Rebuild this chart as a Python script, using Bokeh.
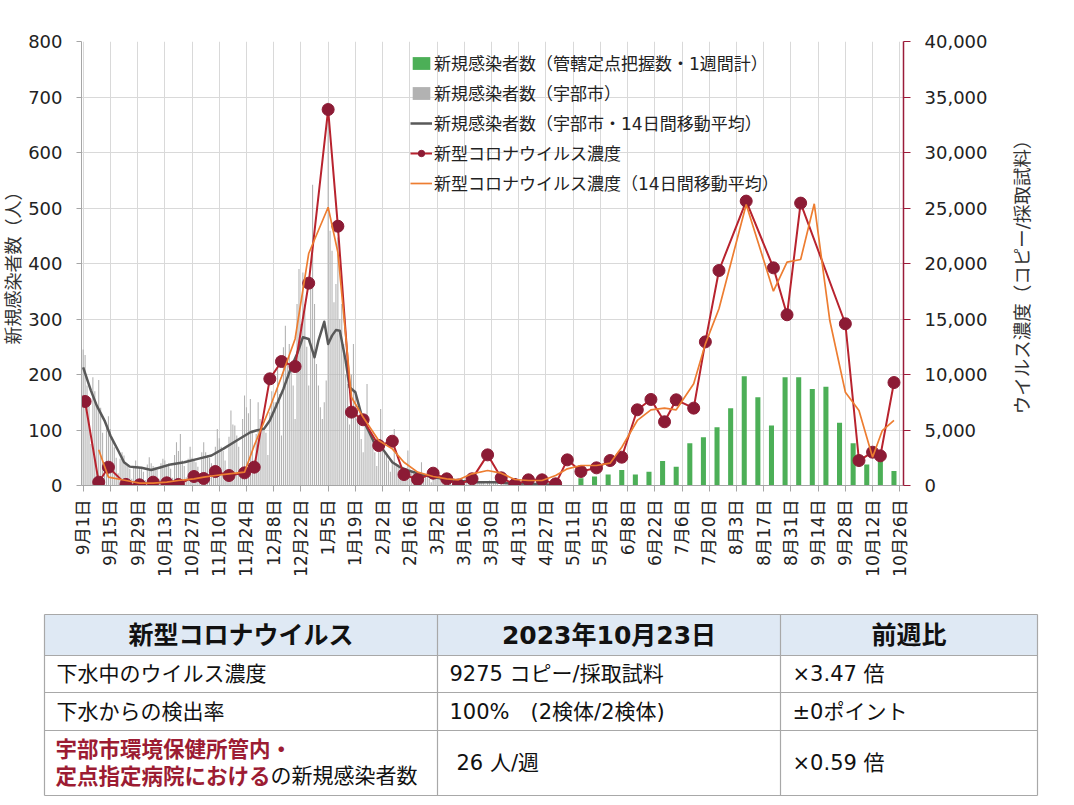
import math
import pandas as pd
from bokeh.plotting import figure
from bokeh.layouts import row
from bokeh.models import (Range1d, LinearAxis, FixedTicker, NumeralTickFormatter,
                          Legend, LegendItem)
from bokeh.core.properties import value
from bokeh.embed import file_html
from bokeh.resources import INLINE

START = pd.Timestamp("2022-09-01")
FONT = "DejaVu Sans, Noto Sans CJK JP"
TABLE_FONT = "DejaVu Sans, Noto Sans CJK JP"


def to_day(dates):
    return [(pd.Timestamp(d) - START).days for d in dates]


# x-axis tick labels (every 14 days from 2022-09-01)
tick_labels = ["9月1日", "9月15日", "9月29日", "10月13日", "10月27日", "11月10日",
               "11月24日", "12月8日", "12月22日", "1月5日", "1月19日", "2月2日",
               "2月16日", "3月2日", "3月16日", "3月30日", "4月13日", "4月27日",
               "5月11日", "5月25日", "6月8日", "6月22日", "7月6日", "7月20日",
               "8月3日", "8月17日", "8月31日", "9月14日", "9月28日", "10月12日",
               "10月26日"]

# daily new cases, Ube city (from 2022-09-01, one value per day)
ube_daily = [
    245, 235, 180, 150, 75, 195, 170,
    145, 190, 140, 95, 40, 108, 125,
    102, 85, 69, 50, 22, 48, 60,
    54, 40, 38, 30, 12, 35, 45,
    36, 32, 30, 25, 10, 38, 51,
    40, 35, 33, 28, 12, 40, 48,
    45, 38, 40, 30, 14, 55, 78,
    62, 93, 45, 35, 15, 48, 70,
    50, 46, 42, 34, 16, 60, 78,
    60, 55, 50, 40, 18, 70, 102,
    85, 70, 62, 45, 22, 88, 135,
    110, 108, 90, 70, 30, 120, 162,
    141, 130, 156, 100, 45, 93, 150,
    120, 115, 105, 95, 55, 132, 170,
    150, 150, 213, 165, 90, 249, 288,
    230, 255, 220, 180, 120, 327, 390,
    291, 384, 327, 250, 180, 354, 542,
    327, 219, 180, 141, 120, 150, 189,
    690, 459, 423, 330, 363, 447, 300,
    327, 255, 200, 183, 110, 200, 255,
    171, 140, 111, 84, 60, 129, 183,
    96, 87, 80, 60, 35, 72, 138,
    63, 60, 55, 45, 25, 45, 102,
    40, 38, 35, 30, 15, 27, 63,
    30, 25, 22, 18, 8, 21, 42,
    20, 18, 16, 12, 6, 18, 24,
    15, 13, 12, 10, 4, 12, 18,
    12, 10, 9, 8, 3, 9, 12,
    9, 8, 7, 6, 2, 8, 12,
    8, 7, 6, 5, 2, 6, 9,
    6, 5, 5, 4, 1, 5, 7,
    5, 4, 4, 3, 1, 4, 6,
    4, 3, 3, 3, 1, 3, 5,
    3, 3, 2, 2, 1, 3, 4,
    3, 2, 2, 2, 0, 2, 3,
    2, 1, 1, 1,
]

# 14-day moving average, Ube city
ube_ma_dates = ["2022-09-01", "2022-09-05", "2022-09-08", "2022-09-12", "2022-09-15",
                "2022-09-19", "2022-09-22", "2022-09-25", "2022-09-28", "2022-10-01",
                "2022-10-06", "2022-10-11", "2022-10-16", "2022-10-23", "2022-10-30",
                "2022-11-06", "2022-11-12", "2022-11-19", "2022-11-26", "2022-11-29",
                "2022-12-03", "2022-12-06", "2022-12-09", "2022-12-13", "2022-12-17",
                "2022-12-20", "2022-12-23", "2022-12-26", "2022-12-29", "2022-12-31",
                "2023-01-03", "2023-01-05", "2023-01-07", "2023-01-09", "2023-01-11",
                "2023-01-14", "2023-01-16", "2023-01-19", "2023-01-22", "2023-01-24",
                "2023-01-26", "2023-01-29", "2023-02-02", "2023-02-07", "2023-02-11",
                "2023-02-16", "2023-02-24", "2023-03-05", "2023-03-15", "2023-03-22",
                "2023-04-01", "2023-04-08", "2023-04-19", "2023-04-28", "2023-05-05"]
ube_ma_values = [213, 171, 144, 117, 90,
                 63, 42, 34, 33, 32,
                 28, 33, 38, 42, 48,
                 54, 66, 81, 96, 99,
                 102, 117, 141, 174, 213,
                 237, 267, 264, 231, 261,
                 295, 255, 270, 280, 279,
                 225, 177, 168, 129, 111,
                 97, 75, 66, 42, 33,
                 26, 18, 12, 8, 6,
                 6, 4, 3, 2, 1]

# weekly new cases at sentinel sites (管轄定点)
sentinel_dates = ["2023-05-15", "2023-05-22", "2023-05-29", "2023-06-05", "2023-06-12",
                  "2023-06-19", "2023-06-26", "2023-07-03", "2023-07-10", "2023-07-17",
                  "2023-07-24", "2023-07-31", "2023-08-07", "2023-08-14", "2023-08-21",
                  "2023-08-28", "2023-09-04", "2023-09-11", "2023-09-18", "2023-09-25",
                  "2023-10-02", "2023-10-09", "2023-10-16", "2023-10-23"]
sentinel_weekly = [13, 16, 20, 28, 20, 25, 44, 34, 76, 87, 105, 139, 197, 159, 108,
                   195, 195, 174, 178, 113, 76, 38, 44, 26]

# wastewater SARS-CoV-2 concentration (copies / sample)
conc_dates = ["2022-09-02", "2022-09-09", "2022-09-14", "2022-09-23", "2022-09-30",
              "2022-10-07", "2022-10-14", "2022-10-20", "2022-10-28", "2022-11-02",
              "2022-11-08", "2022-11-15", "2022-11-23", "2022-11-28", "2022-12-06",
              "2022-12-12", "2022-12-19", "2022-12-26", "2023-01-05", "2023-01-10",
              "2023-01-17", "2023-01-23", "2023-01-31", "2023-02-07", "2023-02-13",
              "2023-02-20", "2023-02-28", "2023-03-07", "2023-03-13", "2023-03-20",
              "2023-03-28", "2023-04-04", "2023-04-11", "2023-04-18", "2023-04-25",
              "2023-05-02", "2023-05-08", "2023-05-15", "2023-05-23", "2023-05-30",
              "2023-06-05", "2023-06-13", "2023-06-20", "2023-06-27", "2023-07-03",
              "2023-07-12", "2023-07-18", "2023-07-25", "2023-08-08", "2023-08-22",
              "2023-08-29", "2023-09-05", "2023-09-28", "2023-10-05", "2023-10-12",
              "2023-10-16", "2023-10-23"]
conc_values = [7570, 300, 1650, 100, 60,
               300, 240, 90, 810, 630,
               1260, 900, 1140, 1650, 9610,
               11170, 10720, 18230, 33870, 23360,
               6610, 5920, 3600, 3990, 990,
               540, 1110, 600, 50, 600,
               2760, 690, 90, 510, 510,
               150, 2310, 1260, 1590, 2250,
               2550, 6820, 7750, 5740, 7720,
               6970, 12940, 19370, 25620, 19610,
               15380, 25440, 14570, 2250, 3000,
               2673, 9275]

# 14-day moving average of the concentration
conc_ma_dates = ["2022-09-09", "2022-09-14", "2022-09-23", "2022-09-30", "2022-10-07",
                 "2022-10-14", "2022-10-20", "2022-10-28", "2022-11-02", "2022-11-08",
                 "2022-11-15", "2022-11-23", "2022-11-28", "2022-12-06", "2022-12-12",
                 "2022-12-19", "2022-12-26", "2023-01-05", "2023-01-10", "2023-01-17",
                 "2023-01-23", "2023-01-31", "2023-02-07", "2023-02-13", "2023-02-20",
                 "2023-02-28", "2023-03-07", "2023-03-13", "2023-03-20", "2023-03-28",
                 "2023-04-04", "2023-04-11", "2023-04-18", "2023-04-25", "2023-05-02",
                 "2023-05-08", "2023-05-15", "2023-05-23", "2023-05-30", "2023-06-05",
                 "2023-06-13", "2023-06-20", "2023-06-27", "2023-07-03", "2023-07-12",
                 "2023-07-18", "2023-07-25", "2023-08-08", "2023-08-22", "2023-08-29",
                 "2023-09-05", "2023-09-12", "2023-09-20", "2023-09-28", "2023-10-05",
                 "2023-10-12", "2023-10-17", "2023-10-23"]
conc_ma_values = [3220, 750, 450, 210, 210,
                  300, 450, 600, 750, 900,
                  1050, 1200, 3600, 7000, 9800,
                  13200, 20900, 25070, 21000, 7950,
                  6150, 4050, 3300, 2100, 1200,
                  810, 600, 510, 1050, 1350,
                  1110, 540, 450, 450, 900,
                  1500, 1800, 1800, 2010, 3450,
                  5860, 6820, 6970, 6820, 9160,
                  12760, 15920, 25320, 17510, 20120,
                  20360, 25380, 14860, 8410, 6760,
                  2550, 4950, 5860]

right_axis_title = "ウイルス濃度（コピー/採取試料）"

# summary table
table_header = ["新型コロナウイルス", "2023年10月23日", "前週比"]
table_rows = [
    ["下水中のウイルス濃度", "9275 コピー/採取試料", "×3.47 倍"],
    ["下水からの検出率", "100%\u3000(2検体/2検体)", "±0ポイント"],
]
last_row_red = ["宇部市環境保健所管内・", "定点指定病院における"]
last_row_rest = ["の新規感染者数", "26 人/週", "×0.59 倍"]

# ---------------------------------------------------------------- chart
tick_days = [14 * i for i in range(len(tick_labels))]

p = figure(width=1000, height=610,
           x_range=Range1d(-0.85, 421.9), y_range=Range1d(0, 800),
           output_backend="svg", toolbar_location=None,
           min_border_left=79, min_border_right=97,
           min_border_top=41, min_border_bottom=125)
p.extra_y_ranges = {"conc": Range1d(0, 40000)}
p.outline_line_color = None
p.background_fill_color = "white"

p.xgrid.ticker = FixedTicker(ticks=tick_days)
p.ygrid.ticker = FixedTicker(ticks=list(range(0, 801, 100)))
for g in (p.xgrid, p.ygrid):
    g.grid_line_color = "#d9d9d9"
    g.grid_line_width = 1

xa = p.xaxis[0]
xa.ticker = FixedTicker(ticks=tick_days)
xa.major_label_overrides = {d: lab for d, lab in zip(tick_days, tick_labels)}
xa.major_label_orientation = math.pi / 2
xa.major_label_text_font = FONT
xa.major_label_text_font_size = "17px"
xa.major_label_text_color = "#222222"
xa.major_label_standoff = 8
xa.axis_line_color = "#a6a6a6"
xa.major_tick_line_color = "#a6a6a6"
xa.major_tick_out = 6
xa.major_tick_in = 0
xa.minor_tick_line_color = None

ya = p.yaxis[0]
ya.ticker = FixedTicker(ticks=list(range(0, 801, 100)))
ya.axis_label = "新規感染者数（人）"
ya.axis_label_text_font = FONT
ya.axis_label_text_font_style = "normal"
ya.axis_label_text_font_size = "18px"
ya.axis_label_text_color = "#333333"
ya.axis_label_standoff = 1
ya.major_label_text_font = FONT
ya.major_label_text_font_size = "18px"
ya.major_label_text_color = "#222222"
ya.major_label_standoff = 14
ya.axis_line_color = "#a6a6a6"
ya.major_tick_line_color = "#a6a6a6"
ya.major_tick_out = 5
ya.major_tick_in = 0
ya.minor_tick_line_color = None

ra = LinearAxis(y_range_name="conc",
                ticker=FixedTicker(ticks=list(range(0, 40001, 5000))),
                formatter=NumeralTickFormatter(format="0,0"))
ra.major_label_text_font = FONT
ra.major_label_text_font_size = "18px"
ra.major_label_text_color = "#222222"
ra.major_label_standoff = 14
ra.axis_line_color = "#9b1c3a"
ra.axis_line_width = 1.5
ra.major_tick_line_color = "#9b1c3a"
ra.major_tick_out = 7
ra.major_tick_in = 0
ra.minor_tick_line_color = None
p.add_layout(ra, "right")

daily_days = list(range(len(ube_daily)))
r_gray = p.vbar(x=daily_days, top=ube_daily, width=0.55,
                fill_color="#b2b2b2", line_color=None)
r_green = p.vbar(x=to_day(sentinel_dates), top=sentinel_weekly, width=2.6,
                 fill_color="#4caf57", line_color=None)
r_ma = p.line(x=to_day(ube_ma_dates), y=ube_ma_values,
              line_color="#595959", line_width=2.5, line_join="round")
r_conc_line = p.line(x=to_day(conc_dates), y=conc_values, y_range_name="conc",
                     line_color="#b8232e", line_width=2)
r_conc_dot = p.scatter(x=to_day(conc_dates), y=conc_values, y_range_name="conc",
                       size=12, fill_color="#8c1b35", line_color="#8c1b35")
r_conc_ma = p.line(x=to_day(conc_ma_dates), y=conc_ma_values, y_range_name="conc",
                   line_color="#ed7d31", line_width=1.7)

legend = Legend(items=[
    LegendItem(label="新規感染者数（管轄定点把握数・1週間計）", renderers=[r_green]),
    LegendItem(label="新規感染者数（宇部市）", renderers=[r_gray]),
    LegendItem(label="新規感染者数（宇部市・14日間移動平均）", renderers=[r_ma]),
    LegendItem(label="新型コロナウイルス濃度", renderers=[r_conc_line, r_conc_dot]),
    LegendItem(label="新型コロナウイルス濃度（14日間移動平均）", renderers=[r_conc_ma]),
], location=(319, 280))
legend.background_fill_alpha = 0
legend.border_line_alpha = 0
legend.label_text_font = FONT
legend.label_text_font_size = "17px"
legend.label_text_color = "#222222"
legend.glyph_width = 22
legend.glyph_height = 16
legend.label_height = 21
legend.spacing = 5
legend.label_standoff = 2
legend.padding = 10
p.add_layout(legend)

# narrow strip to the right holding the concentration axis title (bottom-to-top)
side = figure(width=74, height=610, x_range=Range1d(0, 74), y_range=Range1d(-1, 1),
              output_backend="svg", toolbar_location=None,
              x_axis_type=None, y_axis_type=None,
              min_border_left=0, min_border_right=0,
              min_border_top=41, min_border_bottom=125)
side.grid.visible = False
side.outline_line_color = None
side.text(x=[22], y=[-0.04], text=[right_axis_title], angle=math.pi / 2,
          text_font=value(FONT), text_font_size="18.5px", text_color="#333333",
          text_align="center", text_baseline="middle")

chart = row(p, side, spacing=0)

# ---------------------------------------------------------------- table
t = figure(width=1074, height=195, x_range=Range1d(0, 1074), y_range=Range1d(195, 0),
           output_backend="svg", toolbar_location=None,
           x_axis_type=None, y_axis_type=None, min_border=0)
t.grid.visible = False
t.outline_line_color = None

col_edges = [44, 437, 780, 1037]
row_edges = [4, 45, 82, 120, 185]

t.quad(left=col_edges[0], right=col_edges[-1], top=row_edges[0], bottom=row_edges[1],
       fill_color="#dfe9f4", line_color=None)
t.segment(x0=[col_edges[0]] * len(row_edges), x1=[col_edges[-1]] * len(row_edges),
          y0=row_edges, y1=row_edges, line_color="#a8a8a8", line_width=1.2)
t.segment(x0=col_edges, x1=col_edges, y0=[row_edges[0]] * len(col_edges),
          y1=[row_edges[-1]] * len(col_edges), line_color="#a8a8a8", line_width=1.2)

header_x = [(col_edges[i] + col_edges[i + 1]) / 2 for i in range(3)]
t.text(x=header_x, y=[(row_edges[0] + row_edges[1]) / 2] * 3, text=table_header,
       text_font=value(TABLE_FONT), text_font_style="bold", text_font_size="25px",
       text_align="center", text_baseline="middle", text_color="#111111")

body_x, body_y, body_t = [], [], []
for r, row_cells in enumerate(table_rows):
    ymid = (row_edges[r + 1] + row_edges[r + 2]) / 2
    for c, cell in enumerate(row_cells):
        body_x.append(col_edges[c] + 12)
        body_y.append(ymid)
        body_t.append(cell)
ymid3 = (row_edges[3] + row_edges[4]) / 2
body_x += [col_edges[1] + 19, col_edges[2] + 12]
body_y += [ymid3, ymid3]
body_t += last_row_rest[1:]
t.text(x=body_x, y=body_y, text=body_t, text_font=value(TABLE_FONT),
       text_font_size="21px", text_align="left", text_baseline="middle",
       text_color="#111111")

red_size = 21.5
red_y = [ymid3 - 14, ymid3 + 13]
t.text(x=[col_edges[0] + 11] * 2, y=red_y, text=last_row_red,
       text_font=value(TABLE_FONT), text_font_style="bold",
       text_font_size=f"{red_size}px",
       text_align="left", text_baseline="middle", text_color="#9c1c33")
t.text(x=[col_edges[0] + 11 + red_size * len(last_row_red[1])], y=[red_y[1]],
       text=last_row_rest[:1], text_font=value(TABLE_FONT),
       text_font_size="21px", text_align="left", text_baseline="middle",
       text_color="#111111")

open("out.html", "w").write(file_html([chart, t], INLINE))
